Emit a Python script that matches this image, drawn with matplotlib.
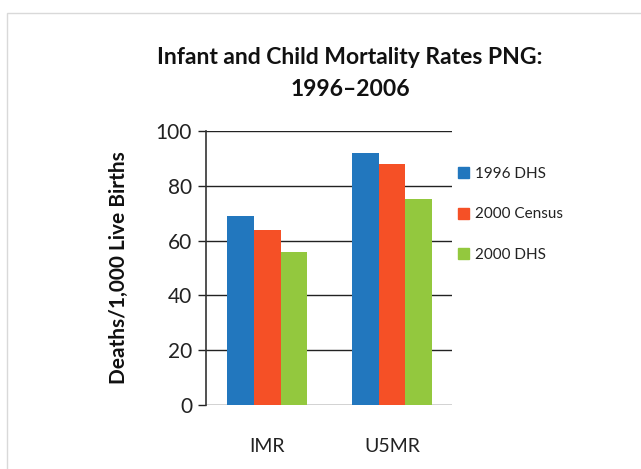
import matplotlib
matplotlib.use("Agg")
import matplotlib.pyplot as plt
from matplotlib.patches import Rectangle, Patch
import numpy as np

categories = ["IMR", "U5MR"]
series_names = ["1996 DHS", "2000 Census", "2000 DHS"]
dhs1996 = [69, 92]
census2000 = [64, 88]
dhs2000 = [56, 75]
yticks = [0, 20, 40, 60, 80, 100]
colors = ["#2277BE", "#F55026", "#93C83E"]

plt.rcParams['font.family'] = ['Lato', 'DejaVu Sans']

W, H = 641, 469
fig = plt.figure(figsize=(W/100, H/100), dpi=100)
fig.patches.append(Rectangle((7/W, -0.2), 1.2, 1.2 - 13/H, transform=fig.transFigure,
                             fill=False, edgecolor="#d9d9d9", linewidth=1.0))

ax = fig.add_axes([206/W, 1 - 405/H, (452-206)/W, (405-131)/H])
x = np.arange(len(categories))
bw = 0.215
for i, (vals, c) in enumerate(zip([dhs1996, census2000, dhs2000], colors)):
    ax.bar(x + (i-1)*bw, vals, bw, color=c, zorder=3)

ax.set_xlim(-0.49, 1.48)
ax.set_ylim(0, 100)
ax.set_yticks(yticks)
ax.yaxis.grid(True, color="#222222", linewidth=1.0, zorder=0)
ax.set_axisbelow(True)
for s in ["top", "right", "bottom"]:
    ax.spines[s].set_visible(False)
ax.spines["left"].set_color("#333333")
ax.spines["left"].set_linewidth(1.2)
ax.tick_params(axis="y", length=6, width=1.0, color="#222222", labelsize=15, pad=4, labelcolor="#222222")
ax.tick_params(axis="x", length=0, labelsize=14, pad=24, labelcolor="#222222")
ax.set_xticks(x)
ax.set_xticklabels(categories)
ax.set_ylabel("Deaths/1,000 Live Births", fontsize=15, fontweight="bold", labelpad=19, color="#111111")

fig.text(350/W, 1 - 58/H, "Infant and Child Mortality Rates PNG:", ha="center", va="center",
         fontsize=16.5, fontweight="bold", color="#111111")
fig.text(350/W, 1 - 89/H, "1996\u20132006", ha="center", va="center",
         fontsize=16.5, fontweight="bold", color="#111111")

handles = [Patch(color=c, label=n) for c, n in zip(colors, series_names)]
leg = fig.legend(handles=handles, loc="upper left", bbox_to_anchor=(444/W, 1 - 153/H),
                 frameon=False, fontsize=11, handlelength=0.75, handleheight=0.75,
                 handletextpad=0.35, labelspacing=1.75)
for t in leg.get_texts():
    t.set_color("#222222")

fig.savefig("out.png", dpi=100)
